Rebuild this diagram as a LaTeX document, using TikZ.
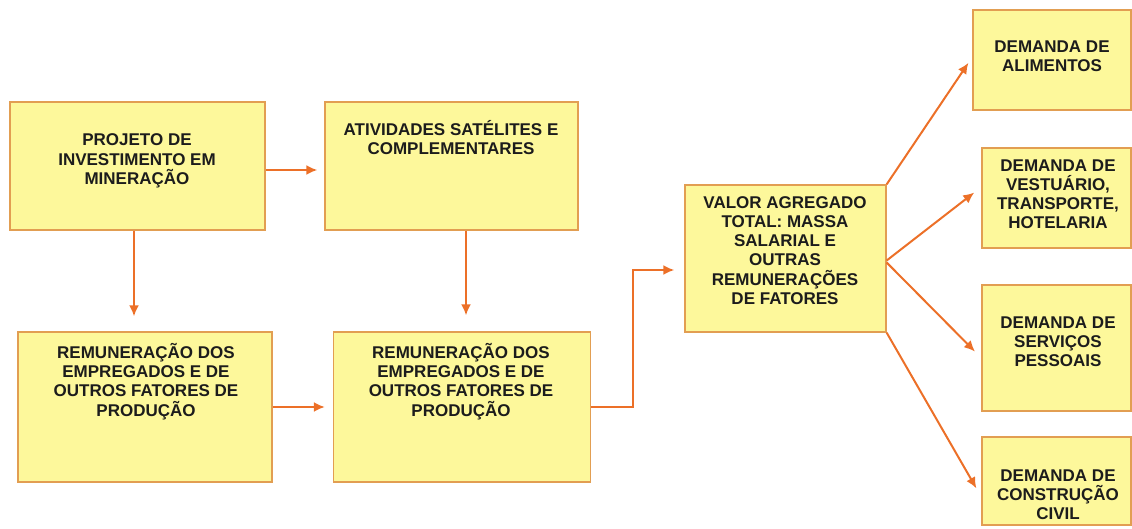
\documentclass[tikz,border=0pt]{standalone}
\usepackage{fontspec}
\setmainfont{Liberation Sans}
\usetikzlibrary{arrows.meta}
\definecolor{boxfill}{RGB}{253,248,155}
\definecolor{boxline}{RGB}{226,158,82}
\definecolor{arr}{RGB}{236,112,40}
\definecolor{txt}{RGB}{28,28,28}
\begin{document}
\begin{tikzpicture}[x=1pt,y=-1pt,
  box/.style={draw=boxline, fill=boxfill, line width=1.3pt, rectangle, inner sep=0pt},
  lbl/.style={anchor=base, align=center, inner sep=0pt, text=txt,
    font=\bfseries\fontsize{17}{19.3}\selectfont},
  arrow/.style={draw=arr, line width=2pt, -{Latex[length=11pt,width=10pt]}}]
\useasboundingbox (0,0) rectangle (1132,529);
% boxes
\node[box, minimum width=255pt, minimum height=128pt] (A) at (137.5,166) {};
\node[box, minimum width=253pt, minimum height=128pt] (B) at (451.5,166) {};
\node[box, minimum width=254pt, minimum height=150pt] (C) at (145,407) {};
\node[box, minimum width=257pt, minimum height=150pt] (D) at (462,407) {};
\node[box, minimum width=201pt, minimum height=147pt] (E) at (785.5,258.5) {};
\node[box, minimum width=158pt, minimum height=100pt] (F1) at (1052,60) {};
\node[box, minimum width=149pt, minimum height=100pt] (F2) at (1056.5,198) {};
\node[box, minimum width=149pt, minimum height=126pt] (F3) at (1056.5,348) {};
\node[box, minimum width=149pt, minimum height=88pt] (F4) at (1056.5,481) {};
% labels (anchored at the baseline of the last line)
\node[lbl] (At) at (137,184.6) {PROJETO DE\\INVESTIMENTO EM\\MINERAÇÃO};
\node[lbl] (Bt) at (451,154.5) {ATIVIDADES SATÉLITES E\\COMPLEMENTARES};
\node[lbl] (Ct) at (146,416) {REMUNERAÇÃO DOS\\EMPREGADOS E DE\\OUTROS FATORES DE\\PRODUÇÃO};
\node[lbl] (Dt) at (461,416) {REMUNERAÇÃO DOS\\EMPREGADOS E DE\\OUTROS FATORES DE\\PRODUÇÃO};
\node[lbl] (Et) at (785,304.5) {VALOR AGREGADO\\TOTAL: MASSA\\SALARIAL E\\OUTRAS\\REMUNERAÇÕES\\DE FATORES};
\node[lbl] (F1t) at (1052,72) {DEMANDA DE\\ALIMENTOS};
\node[lbl] (F2t) at (1058,229) {DEMANDA DE\\VESTUÁRIO,\\TRANSPORTE,\\HOTELARIA};
\node[lbl] (F3t) at (1058,366.6) {DEMANDA DE\\SERVIÇOS\\PESSOAIS};
\node[lbl] (F4t) at (1058,519.6) {DEMANDA DE\\CONSTRUÇÃO\\CIVIL};
% anchor points on the box edges
\coordinate (actop) at ([xshift=-3.5pt]A.south);
\coordinate (dtop) at ([xshift=4pt]D.north);
% connectors
\draw[arrow, shorten >=7pt] ([yshift=-4pt]A.east) -- ([yshift=-4pt]B.west);
\draw[arrow, shorten >=15pt] (actop) -- (actop |- C.north);
\draw[arrow, shorten >=16pt] (dtop |- B.south) -- (dtop);
\draw[arrow, shorten >=8pt] (C.east) -- (D.west);
\draw[arrow, shorten >=10pt] (D.east) -- ++(42,0) |- ([yshift=-11.5pt]E.west);
\draw[arrow, shorten >=7pt] (E.north east) -- ([yshift=3pt]F1.west);
\draw[arrow, shorten >=9pt] ([yshift=-2pt]E.east) -- ([yshift=11pt]F2.west);
\draw[arrow, shorten >=9pt] ([yshift=-4pt]E.east) -- ([yshift=-10pt]F3.west);
\draw[arrow, shorten >=10pt] (E.south east) -- ([yshift=-16pt]F4.west);
\end{tikzpicture}
\end{document}
